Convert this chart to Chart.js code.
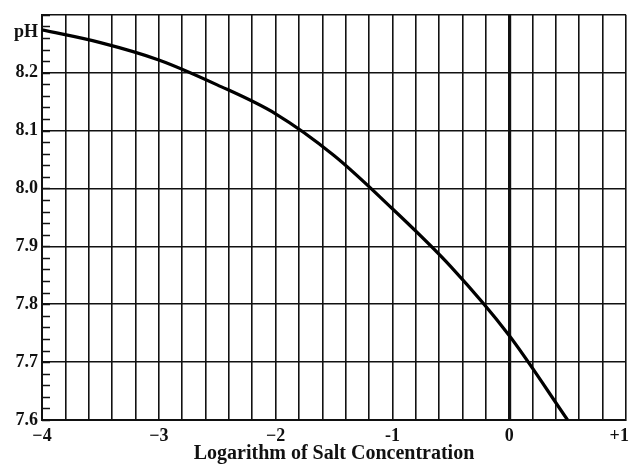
<!DOCTYPE html>
<html lang="en">
<head>
    <meta charset="UTF-8">
    <title>pH and salt concentration</title>
    <script src="https://cdn.jsdelivr.net/npm/chart.js"></script>
    <style>
        body {
            margin: 0;
            padding: 0;
            background-color: #fff;
        }
    </style>
</head>
<body>

<canvas id="phChart" width="630" height="464"></canvas>

<script>
    // log of salt concentration (x) and the pH (y)
    var logConc = [-4, -3.5, -3.0, -2.5, -2.0, -1.5, -1.0, -0.5, 0, 0.5];
    var phValues = [8.274, 8.252, 8.222, 8.179, 8.129, 8.057, 7.965, 7.865, 7.746, 7.600];

    // axis labels (the trailing spaces nudge "+1" left so it stays on the canvas)
    var xTickLabels = { '-4': '\u22124', '-3': '\u22123', '-2': '\u22122', '-1': '-1', '0': '0', '1': '+1   ' };
    var yTickLabels = [7.6, 7.7, 7.8, 7.9, 8.0, 8.1, 8.2];
    var yUnitLabel = 'pH';
    var yUnitAt = 8.27;
    var minorStep = 0.02;

    var ink = '#111';
    var serif = '"Liberation Serif", "DejaVu Serif", serif';

    var points = logConc.map(function (x, i) {
        return { x: x, y: phValues[i] };
    });

    // short inward ticks on the pH axis plus the "pH" caption
    var axisExtras = {
        id: 'axisExtras',
        beforeDatasetsDraw: function (chart) {
            var ctx = chart.ctx;
            var y = chart.scales.y;
            var left = chart.chartArea.left;
            ctx.save();
            ctx.strokeStyle = ink;
            ctx.lineWidth = 1.5;
            for (var v = y.min; v <= y.max + 1e-9; v += minorStep) {
                var py = Math.round(y.getPixelForValue(v)) + 0.5;
                ctx.beginPath();
                ctx.moveTo(left, py);
                ctx.lineTo(left + 8, py);
                ctx.stroke();
            }
            ctx.restore();
        },
        afterDraw: function (chart) {
            var ctx = chart.ctx;
            var y = chart.scales.y;
            ctx.save();
            ctx.fillStyle = ink;
            ctx.font = 'bold 18px ' + serif;
            ctx.textAlign = 'right';
            ctx.textBaseline = 'middle';
            ctx.fillText(yUnitLabel, chart.chartArea.left - 4, y.getPixelForValue(yUnitAt));
            ctx.restore();
        }
    };

    var phChart = new Chart(document.getElementById('phChart').getContext('2d'), {
        type: 'scatter',
        data: {
            datasets: [{
                data: points,
                showLine: true,
                borderColor: '#000',
                borderWidth: 3.2,
                pointRadius: 0,
                cubicInterpolationMode: 'monotone'
            }]
        },
        options: {
            responsive: false,
            animation: false,
            layout: {
                padding: { top: 11, right: 4, left: 0, bottom: 0 }
            },
            plugins: {
                legend: { display: false },
                tooltip: { enabled: false }
            },
            scales: {
                x: {
                    type: 'linear',
                    min: -4,
                    max: 1,
                    afterFit: function (scale) {
                        scale.height = 44;
                        scale.paddingRight = 0;
                        scale.paddingLeft = 0;
                    },
                    ticks: {
                        stepSize: 0.2,
                        autoSkip: false,
                        maxRotation: 0,
                        padding: 6,
                        color: ink,
                        font: { family: serif, size: 18, weight: 'bold' },
                        callback: function (value) {
                            var r = Math.round(value);
                            if (Math.abs(value - r) > 1e-6) return '';
                            return xTickLabels[String(r)] || '';
                        }
                    },
                    grid: {
                        color: ink,
                        drawTicks: false,
                        lineWidth: function (c) {
                            return c.tick && Math.abs(c.tick.value) < 1e-6 ? 3.2 : 1.6;
                        }
                    },
                    border: { color: ink, width: 2 },
                    title: {
                        display: true,
                        text: 'Logarithm of Salt Concentration',
                        color: ink,
                        font: { family: serif, size: 20, weight: 'bold', lineHeight: 1 },
                        padding: { top: 0, bottom: 0 }
                    }
                },
                y: {
                    type: 'linear',
                    min: 7.6,
                    max: 8.3,
                    afterFit: function (scale) {
                        scale.width = 42;
                    },
                    ticks: {
                        stepSize: 0.1,
                        padding: 4,
                        color: ink,
                        font: { family: serif, size: 18, weight: 'bold' },
                        callback: function (value) {
                            for (var i = 0; i < yTickLabels.length; i++) {
                                if (Math.abs(value - yTickLabels[i]) < 1e-6) return yTickLabels[i].toFixed(1);
                            }
                            return '';
                        }
                    },
                    grid: {
                        color: ink,
                        drawTicks: false,
                        lineWidth: 1.6
                    },
                    border: { color: ink, width: 2 }
                }
            }
        },
        plugins: [axisExtras]
    });
</script>
</body>
</html>
